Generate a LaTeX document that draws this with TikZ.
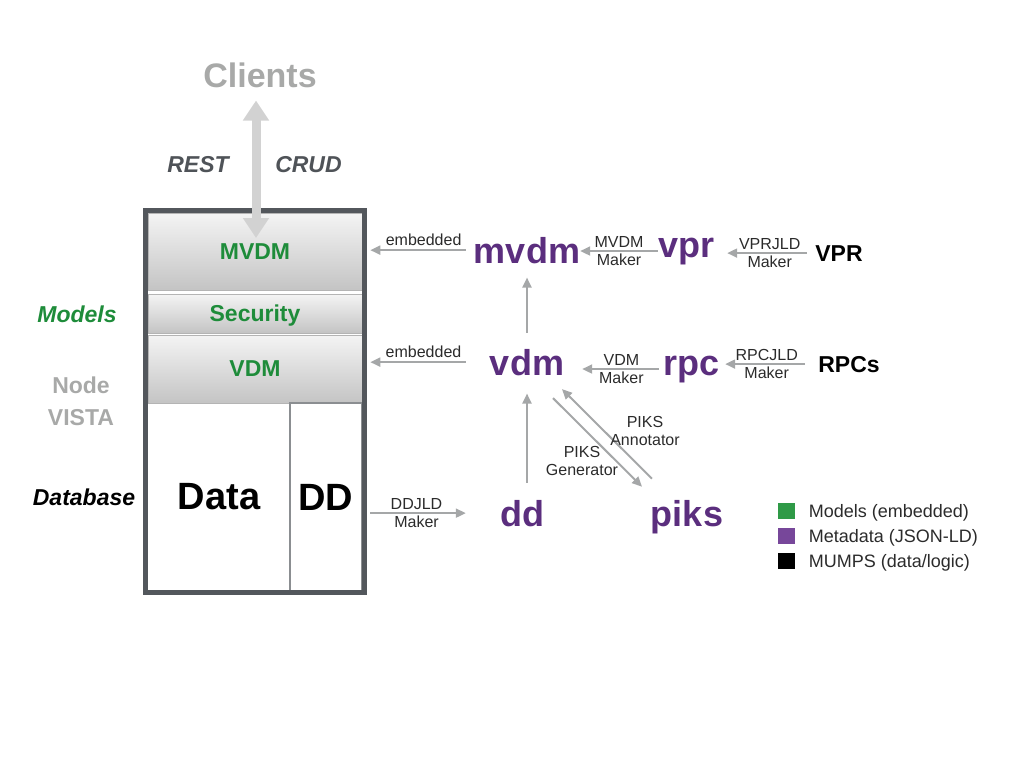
\documentclass[tikz,border=0pt]{standalone}
\usepackage{fontspec}
\setmainfont{Liberation Sans}
\usetikzlibrary{arrows.meta,calc,positioning}

\definecolor{modelGreen}{HTML}{1E8C3A}
\definecolor{metaPurple}{HTML}{5B2E7E}
\definecolor{clientGray}{HTML}{A8A9A8}
\definecolor{restGray}{HTML}{4F5358}
\definecolor{frameGray}{HTML}{53575C}
\definecolor{ddGray}{HTML}{8B8E91}
\definecolor{arrowGray}{HTML}{A5A7A8}
\definecolor{lblGray}{HTML}{2B2B2B}
\definecolor{blkTop}{HTML}{F4F4F4}
\definecolor{blkBottom}{HTML}{C4C4C4}
\definecolor{blkEdge}{HTML}{B4B4B4}
\definecolor{apiGray}{HTML}{D2D2D2}
\definecolor{legGreen}{HTML}{2F9A47}
\definecolor{legPurple}{HTML}{77479A}

\begin{document}
\begin{tikzpicture}[x=1pt,y=-1pt,
  blk/.style={minimum width=214pt, inner sep=0pt, top color=blkTop, bottom color=blkBottom, draw=blkEdge, line width=0.6pt, text=modelGreen, text depth=0pt, font=\fontsize{23}{26}\selectfont\bfseries},
  stackcell/.style={minimum height=188pt, inner sep=0pt, font=\fontsize{38}{42}\selectfont\bfseries},
  jld/.style={text=metaPurple, font=\fontsize{36}{40}\selectfont\bfseries, inner sep=0pt, anchor=base},
  mumps/.style={font=\fontsize{23}{26}\selectfont\bfseries, inner sep=0pt, anchor=base},
  sidetag/.style={font=\fontsize{23}{32}\selectfont\bfseries, align=center, inner sep=0pt},
  lbl/.style={font=\fontsize{16}{18}\selectfont, text=lblGray, align=center, inner sep=0pt},
  garrow/.style={draw=arrowGray, line width=2pt, -{Triangle[width=9pt,length=10pt]}},
  legsq/.style={minimum width=17pt, minimum height=16pt, inner sep=0pt},
  legtxt/.style={font=\fontsize{18}{20}\selectfont, text=lblGray, text height=13pt, text depth=0pt, inner sep=0pt},
]
\useasboundingbox (0,0) rectangle (1024,768);

% Node VISTA stack
\node[blk, minimum height=77pt] (mvdmblk) at (255,251.5) {MVDM};
\node[blk, minimum height=39pt] (secblk) at (255,313.5) {Security};
\node[blk, minimum height=68pt] (vdmblk) at (255,369) {VDM};
\node[stackcell, minimum width=142pt] (datablk) at (219,497) {Data};
\node[stackcell, minimum width=72pt, draw=ddGray, line width=2.5pt] (ddblk) at (326,497) {DD};
\draw[frameGray, line width=4.5pt] (145.5,210.5) rectangle (364.5,592.5);

% Side labels
\node[sidetag, text=modelGreen, anchor=base] (models) at (77,322) {\itshape Models};
\node[sidetag, text=clientGray] (nodevista) at (81,401) {Node\\VISTA};
\node[sidetag, anchor=base] (database) at (84,505) {\itshape Database};

% Clients and REST interface
\node[font=\fontsize{34}{38}\selectfont\bfseries, text=clientGray, inner sep=0pt, anchor=base] (clients) at (260,87) {Clients};
\node[mumps, text=restGray] (rest) at (198,172) {\itshape REST};
\node[mumps, text=restGray] (crud) at (308.5,172) {\itshape CRUD};
\coordinate (api) at (256,238);
\draw[line width=9pt, apiGray, {Triangle[width=25pt,length=20pt]}-{Triangle[width=25pt,length=20pt]}, shorten <=13pt] (api |- clients.south) -- (api);

% Metadata (JSON-LD) and sources
\node[jld] (mvdm) at (527,263) {mvdm};
\node[jld] (vpr) at (686,257) {vpr};
\node[mumps] (vprsrc) at (839,261) {VPR};
\node[jld] (vdm) at (527,375) {vdm};
\node[jld] (rpc) at (691,375) {rpc};
\node[mumps] (rpcs) at (849,372) {RPCs};
\node[jld] (dd) at (522,526) {dd};
\node[jld] (piks) at (687,526) {piks};

% Makers
\draw[garrow, shorten <=8pt, shorten >=13pt] (vprsrc.west) -- (vpr.east |- vprsrc.west) node[lbl, pos=0.45] (vprmaker) {VPRJLD\\Maker};
\draw[garrow] (vpr.west) -- (mvdm.east |- vpr.west) node[lbl, midway] (mvdmmaker) {MVDM\\Maker};
\draw[garrow, shorten <=13pt, shorten >=6pt] (rpcs.west) -- (rpc.east |- rpcs.west) node[lbl, pos=0.52] (rpcmaker) {RPCJLD\\Maker};
\draw[garrow, shorten <=4pt, shorten >=18pt] (rpc.west) -- (vdm.east |- rpc.west) node[lbl, pos=0.42] (vdmmaker) {VDM\\Maker};
\draw[garrow, shorten <=7pt, shorten >=34pt] (ddblk.east |- dd.west) -- (dd.west) node[lbl, pos=0.39] (ddmaker) {DDJLD\\Maker};

% Embedded into the stack
\draw[garrow, shorten <=8pt, shorten >=8pt] (mvdm.west) -- (mvdm.west -| mvdmblk.east) node[lbl, pos=0.45, above=3pt] (emb1) {embedded};
\draw[garrow, shorten <=24pt, shorten >=8pt] (vdm.west) -- (vdm.west -| vdmblk.east) node[lbl, pos=0.52, above=3pt] (emb2) {embedded};

% Between metadata
\draw[garrow, shorten <=16pt, shorten >=14pt] (vdm.north) -- (mvdm.south);
\draw[garrow, shorten <=17pt, shorten >=18pt] (dd.north -| vdm.south) -- (vdm.south);
\draw[garrow] ($(vdm.center)+(26,36)$) -- ($(piks.center)+(-45,-30)$);
\draw[garrow] ($(piks.center)+(-35,-38)$) -- ($(vdm.center)+(35,27)$);
\node[lbl] (piksgen) at (582,461) {PIKS\\Generator};
\node[lbl] (piksann) at (645,431) {PIKS\\Annotator};

% Legend
\foreach \c/\t [count=\i] in {legGreen/{Models (embedded)}, legPurple/{Metadata (JSON-LD)}, black/{MUMPS (data/logic)}} {
    \node[legsq, fill=\c] (sq\i) at (786,486+25*\i) {};
    \node[legtxt, right=14pt of sq\i] (leg\i) {\t};
}

\end{tikzpicture}
\end{document}
